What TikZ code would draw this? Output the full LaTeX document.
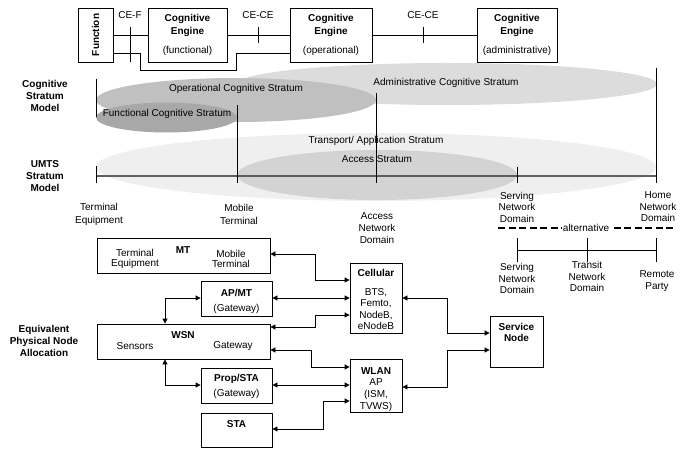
\documentclass[tikz,border=0pt]{standalone}
\usepackage{fontspec}
\setmainfont{Liberation Sans}
\usetikzlibrary{arrows.meta}
\definecolor{admcol}{HTML}{DCDCDC}
\definecolor{opcol}{HTML}{C0C0C0}
\definecolor{fncol}{HTML}{A8A8A8}
\definecolor{trcol}{HTML}{EFEFEF}
\definecolor{accol}{HTML}{D3D3D3}
\definecolor{axcol}{HTML}{5E5E5E}
\begin{document}
\begin{tikzpicture}[x=1pt,y=-1pt,
  every node/.style={font=\fontsize{10}{12}\selectfont, inner sep=0pt},
  box/.style={draw, line width=0.8pt, minimum width=#1},
  bt/.style={font=\fontsize{10}{12}\selectfont\bfseries},
  lbl/.style={align=center},
  thin/.style={line width=0.7pt},
  vline/.style={line width=0.7pt},
  conn/.style={line width=0.8pt, {Triangle[length=5pt,width=5pt]}-{Triangle[length=5pt,width=5pt]}}
]
\useasboundingbox (0,0) rectangle (684,449);

% ---------- top boxes ----------
\node[box=35pt, minimum height=54pt] (fn) at (95.5,35) {};
\node[box=79pt, minimum height=54pt] (cef) at (187.5,35) {};
\node[box=82pt, minimum height=54pt] (ceo) at (331,35) {};
\node[box=80pt, minimum height=54pt] (cea) at (517,35) {};

\node[bt, rotate=90] (fnt) at (95.5,35) {Function};
\foreach \n/\x/\s in {cef/187.5/functional, ceo/331/operational, cea/517/administrative}{
  \node[bt] (\n a) at (\x,19) {Cognitive};
  \node[bt] (\n b) at (\x,32) {Engine};
  \node (\n c) at (\x,51) {(\s)};
}
\node (cefl) at (130,15) {CE-F};
\node (cec1) at (258,15) {CE-CE};
\node (cec2) at (423,15) {CE-CE};

\draw[thin] (fn.east |- 0,35) -- (cef.west |- 0,35);
\draw[thin] (cef.east |- 0,35) -- (ceo.west |- 0,35);
\draw[thin] (ceo.east |- 0,35) -- (cea.west |- 0,35);
\draw[thin] (fn.east |- 0,53) -- (140,53) -- (140,70) -- (236,70) -- (236,53) -- (ceo.west |- 0,53);
\draw[thin] (130,27) -- (130,62);
\draw[thin] (258,27) -- (258,43);
\draw[thin] (423,27) -- (423,43);

% ---------- strata ellipses ----------
\fill[admcol] (447,84) ellipse [x radius=210pt, y radius=21pt];
\fill[opcol] (236,100) ellipse [x radius=140pt, y radius=22pt];
\fill[fncol] (166.5,117.5) ellipse [x radius=70.5pt, y radius=15pt];
\fill[trcol] (376,167) ellipse [x radius=280pt, y radius=34pt];
\fill[accol] (377,175) ellipse [x radius=140pt, y radius=25pt];

\node (adm) at (446,83) {Administrative Cognitive Stratum};
\node (opr) at (236,89) {Operational Cognitive Stratum};
\node (fnc) at (167,114) {Functional Cognitive Stratum};
\node (trn) at (376,141) {Transport/ Application Stratum};
\node (acc) at (377,159) {Access Stratum};

% axis and ticks
\draw[axcol, line width=1.3pt] (96,176) -- (656,176);
\draw[vline] (96,79) -- (96,117);
\draw[vline] (96,166) -- (96,183);
\draw[vline] (237,105) -- (237,183);
\draw[vline] (376,93) -- (376,183);
\draw[vline] (517,167) -- (517,183);
\draw[vline] (656,68) -- (656,183);

% side labels
\node[bt, lbl] (csm) at (45,96) {Cognitive\\Stratum\\Model};
\node[bt, lbl] (umts) at (45,176.5) {UMTS\\Stratum\\Model};
\node[bt, lbl] (epna) at (44,341) {Equivalent\\Physical Node\\Allocation};

% domain labels
\node[lbl, font=\fontsize{10}{13}\selectfont] (te) at (99,214.5) {Terminal\\Equipment};
\node[lbl, font=\fontsize{10}{13}\selectfont] (mtl) at (239,214.5) {Mobile\\Terminal};
\node[lbl] (and) at (377,228) {Access\\Network\\Domain};
\node[lbl, font=\fontsize{10}{11.5}\selectfont] (snd) at (517,207) {Serving\\Network\\Domain};
\node[lbl, font=\fontsize{10}{11.5}\selectfont] (hnd) at (658,207) {Home\\Network\\Domain};

\coordinate (dl) at (498,228);
\coordinate (dr) at (673,228);
\draw[line width=1.5pt, dash pattern=on 7pt off 3.5pt] (dl) -- (dr);
\node[fill=white, inner xsep=1pt, inner ysep=2pt] (alt) at (586,228) {alternative};

\draw[vline] (517,250) -- (656,250);
\draw[vline] (517,238) -- (517,262);
\draw[vline] (587,238) -- (587,262);
\draw[vline] (656,238) -- (656,262);
\node[lbl, font=\fontsize{10}{11.5}\selectfont] (snd2) at (517,278.5) {Serving\\Network\\Domain};
\node[lbl, font=\fontsize{10}{11.5}\selectfont] (tnd) at (587,276.5) {Transit\\Network\\Domain};
\node[lbl] (rp) at (657,281) {Remote\\Party};

% ---------- physical nodes ----------
\node[box=173pt, minimum height=35pt] (mt) at (183.5,255.5) {};
\node[box=71pt, minimum height=35pt] (apmt) at (236.5,298.5) {};
\node[box=173pt, minimum height=35pt] (wsn) at (183.5,341.5) {};
\node[box=71pt, minimum height=35pt] (prop) at (236.5,385.5) {};
\node[box=71pt, minimum height=34pt] (sta) at (236.5,430) {};
\node[box=52pt, minimum height=70pt] (cell) at (376,298) {};
\node[box=52pt, minimum height=53pt] (wlan) at (376,385.5) {};
\node[box=53pt, minimum height=51pt] (sn) at (516.5,341.5) {};

\node[bt] (mtt) at (183,250) {MT};
\node[lbl, font=\fontsize{10}{10.5}\selectfont] (mtte) at (135,259) {Terminal\\Equipment};
\node[lbl, font=\fontsize{10}{10.5}\selectfont] (mttm) at (231,259) {Mobile\\Terminal};
\node[bt] (apt) at (236.5,293) {AP/MT};
\node (apg) at (236.5,309) {(Gateway)};
\node[bt] (wsnt) at (183,335) {WSN};
\node (wsns) at (135,346) {Sensors};
\node (wsng) at (233,346) {Gateway};
\node[bt] (propt) at (236.5,379) {Prop/STA};
\node (propg) at (236.5,394) {(Gateway)};
\node[bt] (stat) at (236.5,424) {STA};
\node[bt] (cellt) at (376,273) {Cellular};
\node[lbl, font=\fontsize{10}{11.5}\selectfont] (cellb) at (376,309) {BTS,\\Femto,\\NodeB,\\eNodeB};
\node[bt] (wlant) at (376,371) {WLAN};
\node[lbl, font=\fontsize{10}{12}\selectfont] (wlanb) at (376,395) {AP\\(ISM,\\TVWS)};
\node[bt, lbl, font=\fontsize{10}{11}\selectfont\bfseries] (snt) at (516.5,332.5) {Service\\Node};

% connectors
\draw[conn] (mt.east |- 0,254) -- (315,254) |- (cell.west |- 0,280);
\draw[conn] (apmt.east |- 0,298) -- (cell.west |- 0,298);
\draw[conn] (wsn.east |- 0,327) -- (315,327) |- (cell.west |- 0,315);
\draw[conn] (apmt.west |- 0,298) -| (wsn.north -| 165,0);
\draw[conn] (wsn.east |- 0,350) -- (311,350) |- (wlan.west |- 0,367);
\draw[conn] (wsn.south -| 165,0) |- (prop.west |- 0,385);
\draw[conn] (prop.east |- 0,385) -- (wlan.west |- 0,385);
\draw[conn] (sta.east |- 0,429) -- (323,429) |- (wlan.west |- 0,401);
\draw[conn] (cell.east |- 0,298) -- (447,298) |- (sn.west |- 0,333);
\draw[conn] (wlan.east |- 0,387) -- (447,387) |- (sn.west |- 0,350);
\end{tikzpicture}
\end{document}
